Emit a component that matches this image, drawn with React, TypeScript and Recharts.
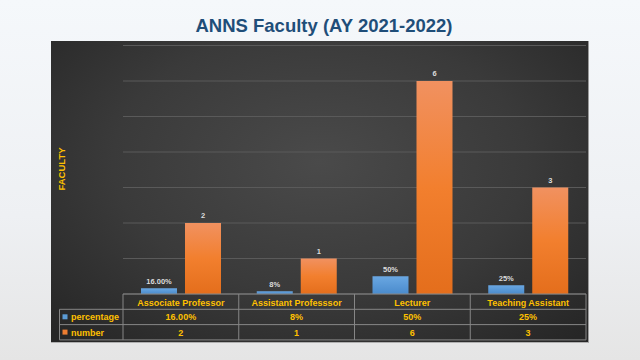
import React from 'react';
import { BarChart, Bar, XAxis, YAxis, CartesianGrid, LabelList } from 'recharts';

const categories = ['Associate Professor', 'Assistant Professsor', 'Lecturer', 'Teaching Assistant'];
const percentage = [0.16, 0.08, 0.5, 0.25];
const percentageLabels = ['16.00%', '8%', '50%', '25%'];
const number = [2, 1, 6, 3];
const yTicks = [0, 1, 2, 3, 4, 5, 6, 7];

const data = categories.map((name, i) => ({
  name,
  percentage: percentage[i],
  pctLabel: percentageLabels[i],
  number: number[i],
}));

const W = 640;
const H = 360;
const LEFT = 123;
const RIGHT = 586;
const BASE = 294;
const ROW = 15.3;
const BAND = (RIGHT - LEFT) / categories.length;
const FONT = '"Liberation Sans", Arial, sans-serif';
const GOLD = '#ffc000';
const LINE = '#868686';

// x axis tick draws the data table below the plot
function TableTick(props: any) {
  const { x, payload } = props;
  const i = payload.index;
  const textProps = { fill: GOLD, fontSize: 9, fontWeight: 700, fontFamily: FONT, textAnchor: 'middle' as const };
  return (
    <g>
      {i === 0 && (
        <g>
          <line x1={59.5} x2={RIGHT} y1={BASE + ROW} y2={BASE + ROW} stroke={LINE} />
          <line x1={59.5} x2={RIGHT} y1={BASE + ROW * 2} y2={BASE + ROW * 2} stroke={LINE} />
          <line x1={59.5} x2={RIGHT} y1={BASE + ROW * 3} y2={BASE + ROW * 3} stroke={LINE} />
          <line x1={59.5} x2={59.5} y1={BASE + ROW} y2={BASE + ROW * 3} stroke={LINE} />
          <line x1={x - BAND / 2} x2={x - BAND / 2} y1={BASE} y2={BASE + ROW * 3} stroke={LINE} />
          <rect x={62.5} y={BASE + ROW + 5} width={5} height={5} fill="#5b9bd5" />
          <text x={71} y={BASE + ROW + 11} fill={GOLD} fontSize={9} fontWeight={700} fontFamily={FONT}>percentage</text>
          <rect x={62.5} y={BASE + ROW * 2 + 5} width={5} height={5} fill="#ed7d31" />
          <text x={71} y={BASE + ROW * 2 + 11} fill={GOLD} fontSize={9} fontWeight={700} fontFamily={FONT}>number</text>
        </g>
      )}
      <line x1={x + BAND / 2} x2={x + BAND / 2} y1={BASE} y2={BASE + ROW * 3} stroke={LINE} />
      <text x={x} y={BASE + 11.5} {...textProps}>{payload.value}</text>
      <text x={x} y={BASE + ROW + 11} {...textProps}>{percentageLabels[i]}</text>
      <text x={x} y={BASE + ROW * 2 + 11} {...textProps}>{number[i]}</text>
    </g>
  );
}

export default function App() {
  return (
    <div
      style={{
        position: 'fixed',
        left: 0,
        top: 0,
        width: W,
        height: H,
        background: 'linear-gradient(180deg, #f5f8fb 0%, #eef0f3 60%, #e5e5e5 100%)',
        overflow: 'hidden',
      }}
    >
      {/* dark chart panel */}
      <div
        style={{
          position: 'absolute',
          left: 51,
          top: 41,
          width: 537,
          height: 301,
          background: 'radial-gradient(ellipse 70% 80% at 50% 40%, #4a4a4a 0%, #3a3a3a 55%, #262626 100%)',
          borderRight: '1px solid #9a9a9a',
          borderBottom: '1px solid #b0b0b0',
        }}
      />
      <div style={{ position: 'absolute', left: 0, top: 0 }}>
        <BarChart
          width={W}
          height={H}
          data={data}
          margin={{ top: 45.5, right: W - RIGHT, bottom: 0, left: LEFT }}
          barCategoryGap={17}
          barGap={8}
        >
          <defs>
            <linearGradient id="blueGrad" x1="0" y1="0" x2="0" y2="1">
              <stop offset="0%" stopColor="#6aa7e2" />
              <stop offset="100%" stopColor="#4a8bcc" />
            </linearGradient>
            <linearGradient id="orangeGrad" x1="0" y1="0" x2="0" y2="1">
              <stop offset="0%" stopColor="#f19160" />
              <stop offset="50%" stopColor="#f27f2e" />
              <stop offset="100%" stopColor="#e46e1c" />
            </linearGradient>
          </defs>
          <CartesianGrid horizontal vertical={false} stroke="#5a5a5a" />
          <YAxis
            domain={[0, 7]}
            ticks={yTicks}
            width={0}
            tick={{ fill: 'transparent', fontSize: 1 }}
            axisLine={false}
            tickLine={false}
          />
          <XAxis
            dataKey="name"
            height={H - BASE}
            axisLine={{ stroke: LINE }}
            tickLine={false}
            tick={<TableTick />}
            interval={0}
          />
          <Bar dataKey="percentage" fill="url(#blueGrad)" barSize={36} isAnimationActive={false}>
            <LabelList dataKey="pctLabel" position="top" offset={4} fill="#dcdcdc" fontSize={7.5} fontWeight={700} fontFamily={FONT} />
          </Bar>
          <Bar dataKey="number" fill="url(#orangeGrad)" barSize={36} isAnimationActive={false}>
            <LabelList dataKey="number" position="top" offset={5} fill="#dcdcdc" fontSize={7.5} fontWeight={700} fontFamily={FONT} />
          </Bar>
        </BarChart>
      </div>
      <svg width={W} height={H} style={{ position: 'absolute', left: 0, top: 0, pointerEvents: 'none' }}>
        <text x={324} y={32} textAnchor="middle" fill="#1f4e79" fontSize={18.5} fontWeight={700} fontFamily={FONT}>
          ANNS Faculty (AY 2021-2022)
        </text>
        <text
          x={65}
          y={169}
          transform="rotate(-90 65 169)"
          textAnchor="middle"
          fill={GOLD}
          fontSize={9.5}
          fontWeight={700}
          fontFamily={FONT}
        >
          FACULTY
        </text>
      </svg>
    </div>
  );
}
